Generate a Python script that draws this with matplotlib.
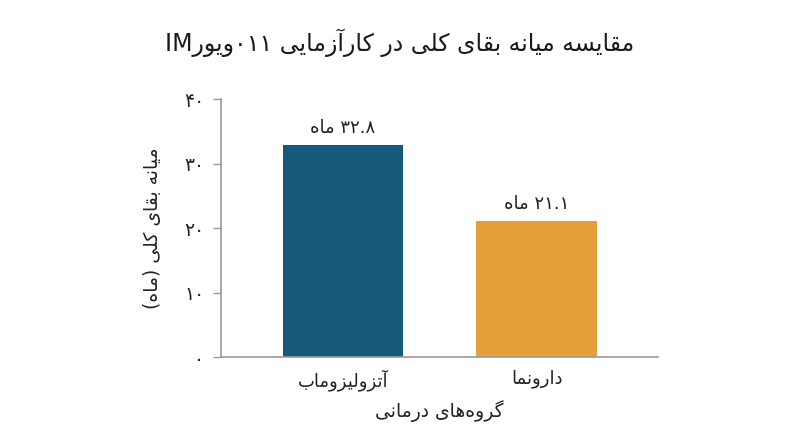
import matplotlib
matplotlib.use("Agg")
import matplotlib.pyplot as plt

# ---------------- data ----------------
categories = ["آتزولیزوماب", "دارونما"]
values = [32.8, 21.1]
value_labels = ["۳۲.۸ ماه", "۲۱.۱ ماه"]
yticks = [0, 10, 20, 30, 40]
ytick_labels = ["۰", "۱۰", "۲۰", "۳۰", "۴۰"]
title = "مقایسه میانه بقای کلی در کارآزمایی ۰۱۱ویورIM"
ylabel = "میانه بقای کلی (ماه)"
xlabel = "گروه\u200cهای درمانی"
colors = ["#155a7b", "#e6a03a"]

# ------------- minimal Persian shaping + RTL display -------------
FORMS = {
    'ا': ('\uFE8D', '\uFE8E', None, None),
    'آ': ('\uFE81', '\uFE82', None, None),
    'ب': ('\uFE8F', '\uFE90', '\uFE91', '\uFE92'),
    'ت': ('\uFE95', '\uFE96', '\uFE97', '\uFE98'),
    'د': ('\uFEA9', '\uFEAA', None, None),
    'ر': ('\uFEAD', '\uFEAE', None, None),
    'ز': ('\uFEAF', '\uFEB0', None, None),
    'س': ('\uFEB1', '\uFEB2', '\uFEB3', '\uFEB4'),
    'ق': ('\uFED5', '\uFED6', '\uFED7', '\uFED8'),
    'ل': ('\uFEDD', '\uFEDE', '\uFEDF', '\uFEE0'),
    'م': ('\uFEE1', '\uFEE2', '\uFEE3', '\uFEE4'),
    'ن': ('\uFEE5', '\uFEE6', '\uFEE7', '\uFEE8'),
    'ه': ('\uFEE9', '\uFEEA', '\uFEEB', '\uFEEC'),
    'و': ('\uFEED', '\uFEEE', None, None),
    'ی': ('\uFBFC', '\uFBFD', '\uFBFE', '\uFBFF'),
    'ک': ('\uFB8E', '\uFB8F', '\uFB90', '\uFB91'),
    'گ': ('\uFB92', '\uFB93', '\uFB94', '\uFB95'),
}


def shape(s):
    out = []
    n = len(s)
    for i, c in enumerate(s):
        if c not in FORMS:
            out.append(c)
            continue
        f = FORMS[c]
        prev = s[i - 1] if i > 0 else ''
        nxt = s[i + 1] if i < n - 1 else ''
        pj = prev in FORMS and FORMS[prev][2] is not None
        nj = nxt in FORMS and f[2] is not None
        if pj and nj:
            out.append(f[3])
        elif pj:
            out.append(f[1])
        elif nj:
            out.append(f[2])
        else:
            out.append(f[0])
    return ''.join(out).replace('\u200c', '')


def is_ltr(c):
    return c.isascii() and (c.isalnum() or c == '.') or ('\u06F0' <= c <= '\u06F9')


MIRROR = {'(': ')', ')': '('}


def rtl(s):
    s = shape(s)
    runs = []
    for c in s:
        t = is_ltr(c)
        if runs and runs[-1][0] == t:
            runs[-1][1].append(c)
        else:
            runs.append([t, [c]])
    parts = []
    for t, chars in reversed(runs):
        if t:
            parts.append(''.join(chars))
        else:
            parts.append(''.join(MIRROR.get(ch, ch) for ch in reversed(chars)))
    return ''.join(parts)


plt.rcParams['font.family'] = ['DejaVu Sans']

fig = plt.figure(figsize=(8, 4.47), dpi=100)
ax = fig.add_axes([0.276, 0.2013, 0.546, 0.5772])

x = list(range(len(categories)))
ax.bar(x, values, width=0.62, color=colors, zorder=2)
for xi, v, lab in zip(x, values, value_labels):
    ax.text(xi, v + 1.3, rtl(lab), ha='center', va='bottom', fontsize=13, color='#222222')

ax.set_xlim(-0.63, 1.625)
ax.set_ylim(0, 40)
ax.set_yticks(yticks)
ax.set_yticklabels(ytick_labels, fontsize=13.5, color='#222222')
ax.set_xticks(x)
ax.set_xticklabels([rtl(c) for c in categories], fontsize=13, color='#222222')
ax.tick_params(axis='y', length=6, color='#9a9a9a', width=1, pad=6)
ax.tick_params(axis='x', length=0, pad=9)
for side in ['top', 'right']:
    ax.spines[side].set_visible(False)
for side in ['left', 'bottom']:
    ax.spines[side].set_color('#9a9a9a')
    ax.spines[side].set_linewidth(1.2)

ax.set_ylabel(rtl(ylabel), fontsize=13.5, color='#222222', labelpad=16)
ax.set_xlabel(rtl(xlabel), fontsize=13.5, color='#222222', labelpad=6)
fig.text(0.5, 0.905, rtl(title), ha='center', va='center', fontsize=17, color='#1a1a1a')

fig.savefig('out.png', dpi=100)
